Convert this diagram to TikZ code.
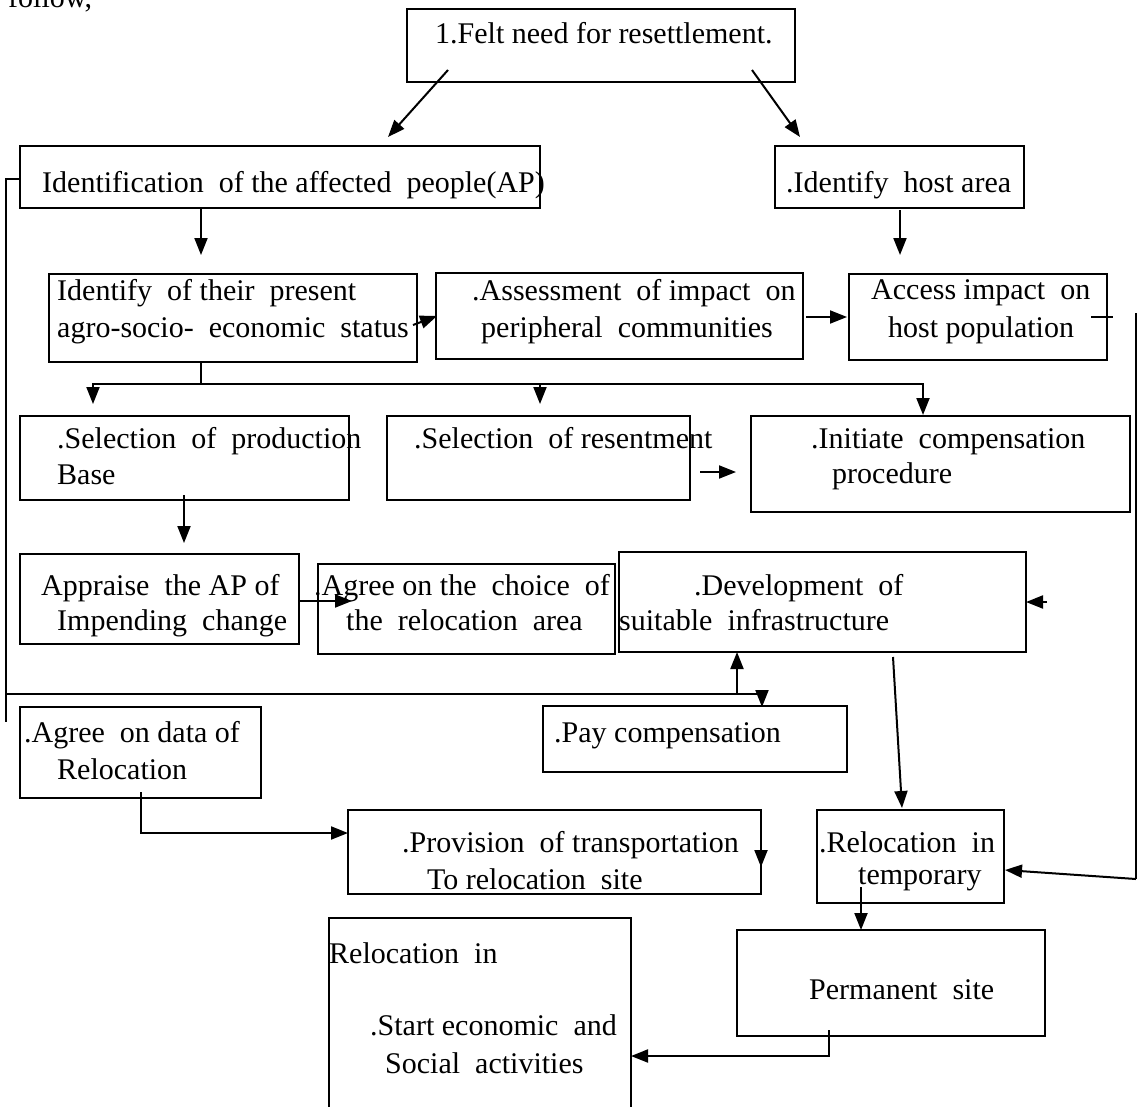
\documentclass[tikz,border=0pt]{standalone}
\usepackage{fontspec}
\setmainfont{Liberation Serif}
\usetikzlibrary{calc,arrows.meta}
\begin{document}
\begin{tikzpicture}[x=1pt,y=-1pt,
  box/.style={draw, line width=2pt, inner sep=0pt, outer sep=0pt, anchor=north west},
  txt/.style={anchor=base west, inner sep=0pt, font=\fontsize{30}{36}\selectfont},
  ln/.style={line width=2pt},
  arr/.style={line width=2pt, -{Triangle[length=17pt,width=13pt]}}]
\fill[white] (0,0) rectangle (1139,1106);
\useasboundingbox (0,0) rectangle (1139,1106);
% boxes
\node[box, minimum width=388pt, minimum height=73pt] (b1) at (407,9) {};
\node[box, minimum width=520pt, minimum height=62pt] (b2) at (20,146) {};
\node[box, minimum width=249pt, minimum height=62pt] (b3) at (775,146) {};
\node[box, minimum width=368pt, minimum height=88pt] (b4) at (49,274) {};
\node[box, minimum width=367pt, minimum height=86pt] (b5) at (436,273) {};
\node[box, minimum width=258pt, minimum height=86pt] (b6) at (849,274) {};
\node[box, minimum width=329pt, minimum height=84pt] (b7) at (20,416) {};
\node[box, minimum width=303pt, minimum height=84pt] (b8) at (387,416) {};
\node[box, minimum width=379pt, minimum height=96pt] (b9) at (751,416) {};
\node[box, minimum width=279pt, minimum height=90pt] (b10) at (20,554) {};
\node[box, minimum width=297pt, minimum height=90pt] (b11) at (318,564) {};
\node[box, minimum width=407pt, minimum height=100pt] (b12) at (619,552) {};
\node[box, minimum width=304pt, minimum height=66pt] (b13) at (543,706) {};
\node[box, minimum width=241pt, minimum height=91pt] (b14) at (20,707) {};
\node[box, minimum width=413pt, minimum height=84pt] (b15) at (348,810) {};
\node[box, minimum width=187pt, minimum height=93pt] (b16) at (817,810) {};
\node[box, minimum width=308pt, minimum height=106pt] (b17) at (737,930) {};
\node[box, minimum width=302pt, minimum height=212pt] (b18) at (329,918) {};
% texts
\node[txt] (t0) at (8,7) {follow,};
\node[txt] (t1) at (435,43) {1.Felt need for resettlement.};
\node[txt] (t2) at (42,192) {Identification\ \ of the affected\ \ people(AP)};
\node[txt] (t3) at (786,192) {.Identify\ \ host area};
\node[txt] (t4a) at (57,300) {Identify\ \ of their\ \ present};
\node[txt] (t4b) at (57,337) {agro-socio-\ \ economic\ \ status};
\node[txt] (t5a) at (472,300) {.Assessment\ \ of impact\ \ on};
\node[txt] (t5b) at (481,337) {peripheral\ \ communities};
\node[txt] (t6a) at (871,299) {Access impact\ \ on};
\node[txt] (t6b) at (888,337) {host population};
\node[txt] (t7a) at (57,448) {.Selection\ \ of\ \ production};
\node[txt] (t7b) at (57,484) {Base};
\node[txt] (t8) at (414,448) {.Selection\ \ of resentment};
\node[txt] (t9a) at (811,448) {.Initiate\ \ compensation};
\node[txt] (t9b) at (832,483) {procedure};
\node[txt] (t10a) at (41,595) {Appraise\ \ the AP of};
\node[txt] (t10b) at (57,630) {Impending\ \ change};
\node[txt] (t11a) at (314,595) {.Agree on the\ \ choice\ \ of};
\node[txt] (t11b) at (346,630) {the\ \ relocation\ \ area};
\node[txt] (t12a) at (694,595) {.Development\ \ of};
\node[txt] (t12b) at (619,630) {suitable\ \ infrastructure};
\node[txt] (t13) at (554,742) {.Pay compensation};
\node[txt] (t14a) at (24,742) {.Agree\ \ on data of};
\node[txt] (t14b) at (57,779) {Relocation};
\node[txt] (t15a) at (402,852) {.Provision\ \ of transportation};
\node[txt] (t15b) at (427,889) {To relocation\ \ site};
\node[txt] (t16a) at (819,852) {.Relocation\ \ in};
\node[txt] (t16b) at (858,884) {temporary};
\node[txt] (t17) at (809,999) {Permanent\ \ site};
\node[txt] (t18a) at (329,963) {Relocation\ \ in};
\node[txt] (t18b) at (370,1035) {.Start economic\ \ and};
\node[txt] (t18c) at (385,1073) {Social\ \ activities};
% free coordinates
\coordinate (rtop) at (1136,313);
\coordinate (rbot) at (1136,879);
\coordinate (din) at (1047,602);
\coordinate (ltop) at (6,179);
\coordinate (lbot) at (6,722);
\coordinate (lmid) at (6,694);
\coordinate (j1) at (201,384);
\coordinate (j2) at (540,384);
\coordinate (j3) at (737,694);
% connectors
\draw[arr] ($(b1.north west)+(41,61)$) -- ($(b2.north west)+(368,-9)$);
\draw[arr] ($(b1.north west)+(345,61)$) -- ($(b3.north west)+(25,-9)$);
\draw[arr] ($(b2.north west)+(181,62)$) -- ($(b4.north west)+(152,-19)$);
\draw[arr] ($(b3.north west)+(125,64)$) -- ($(b6.north west)+(51,-19)$);
\draw[arr] ($(b4.north west)+(364,51)$) -- ($(b5.north west)+(1,43)$);
\draw[arr] ($(b5.north west)+(370,44)$) -- ($(b6.north west)+(-2,43)$);
\draw[ln] ($(b6.north west)+(242,43)$) -- ($(b6.north west)+(264,43)$);
\draw[ln] ($(b4.north west)+(152,88)$) -- (j1);
\draw[arr] (j1) -| ($(b7.north west)+(73,-12)$);
\draw[arr] (j1) -| ($(b9.north west)+(172,-1)$);
\draw[arr] (j2) -- ($(b8.north west)+(153,-12)$);
\draw[arr] ($(b8.north west)+(313,56)$) -- ($(b9.north west)+(-15,56)$);
\draw[arr] ($(b7.north west)+(164,79)$) -- ($(b10.north west)+(164,-11)$);
\draw[arr] ($(b10.north west)+(280,47)$) -- ($(b11.north west)+(34,37)$);
\draw[arr] (din) -- (b12.east);
\draw[arr] (j3) -- ($(b12.south west)+(118,0)$);
\draw[arr] ($(b12.north west)+(274,105)$) -- ($(b16.north west)+(85,-2)$);
\draw[ln] ($(b2.north west)+(0,33)$) -- (ltop) -- (lbot);
\draw[arr] (lmid) -| ($(b13.north west)+(219,1)$);
\draw[ln] (rtop) -- (rbot);
\draw[arr] (rbot) -- ($(b16.north west)+(188,60)$);
\draw[arr] ($(b14.north west)+(121,85)$) |- ($(b15.north west)+(0,23)$);
\draw[arr] ($(b15.north west)+(413,40)$) -- ($(b15.north west)+(413,57)$);
\draw[arr] ($(b16.north west)+(44,77)$) -- ($(b17.north west)+(124,0)$);
\draw[arr] ($(b17.north west)+(92,100)$) |- ($(b18.north west)+(302,138)$);
\end{tikzpicture}
\end{document}
